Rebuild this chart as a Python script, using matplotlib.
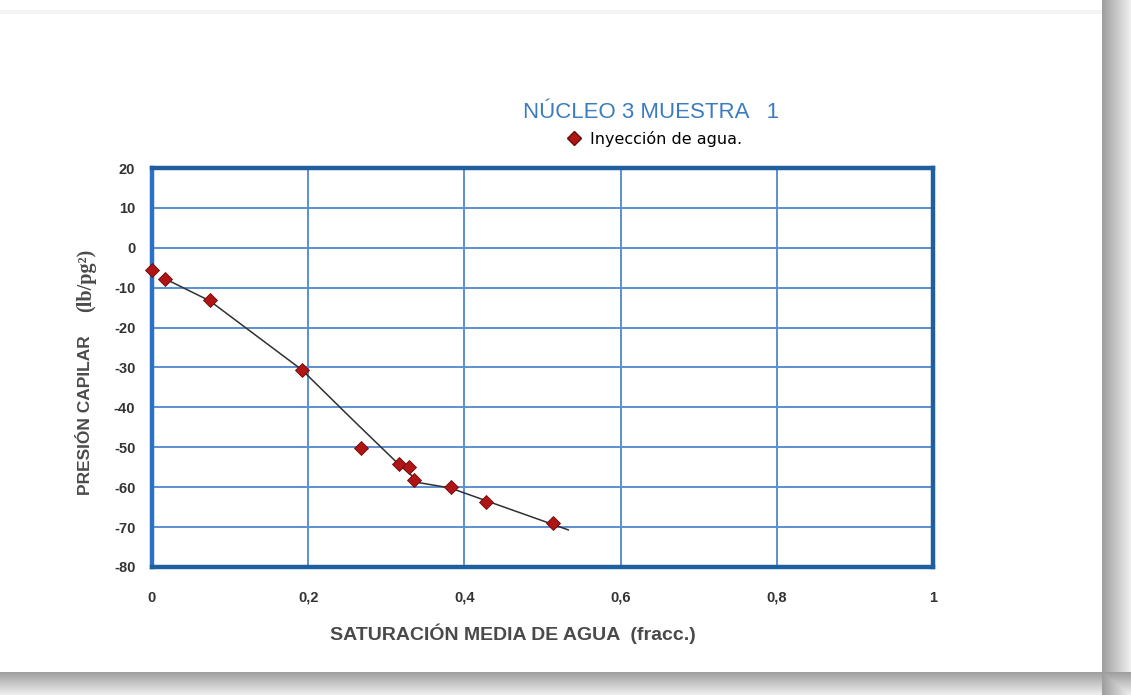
"""
Núcleo 3 muestra 1 - presión capilar vs saturación media de agua
"""

import numpy as np
import matplotlib.pyplot as plt
from matplotlib.lines import Line2D

plt.rcParams['axes.unicode_minus'] = False

# datos
sw = [0.0, 0.017, 0.074, 0.192, 0.268, 0.316, 0.329, 0.335, 0.383, 0.428, 0.513]
pc = [-5.5, -7.8, -13.0, -30.6, -50.1, -54.1, -54.9, -58.1, -59.9, -63.7, -68.9]

# línea de tendencia trazada a mano
tend_x = [0.017, 0.074, 0.192, 0.257, 0.314, 0.343, 0.382, 0.533]
tend_y = [-7.8, -13.3, -30.6, -43.1, -53.9, -58.9, -60.2, -70.7]

xticks = [0, 0.2, 0.4, 0.6, 0.8, 1.0]
xlabels = ['0', '0,2', '0,4', '0,6', '0,8', '1']
yticks = [20, 10, 0, -10, -20, -30, -40, -50, -60, -70, -80]

W, H = 1131, 695
fig = plt.figure(figsize=(W / 100, H / 100), dpi=100)

# fondo tipo tarjeta con sombra
bg = fig.add_axes([0, 0, 1, 1])
img = np.ones((H, W))
xx = np.arange(W)
yy = np.arange(H)
right = np.clip((xx - 1102) / 29.0, 0, 1)
bottom = np.clip((yy - 672) / 23.0, 0, 1)
shade_r = np.where(xx >= 1102, 0.62 + 0.33 * right, 1.0)
shade_b = np.where(yy >= 672, 0.62 + 0.33 * bottom, 1.0)
img = np.minimum(img, shade_r[None, :])
img = np.minimum(img, shade_b[:, None])
img[10:14, 0:1102] = np.minimum(img[10:14, 0:1102], 0.96)
bg.imshow(np.dstack([img, img, img]), aspect='auto', extent=(0, W, H, 0))
bg.set_axis_off()

ax = fig.add_axes([152 / W, 1 - 567 / H, (933 - 152) / W, (567 - 168) / H])
ax.set_xlim(0, 1)
ax.set_ylim(-80, 20)
ax.set_xticks(xticks)
ax.set_xticklabels(xlabels)
ax.set_yticks(yticks)
ax.grid(True, color='#5b8fd0', linewidth=1.4)
ax.set_axisbelow(True)
for s in ax.spines.values():
    s.set_color('#1f5f9f')
    s.set_linewidth(3.2)
ax.spines['left'].set_color('#2a72c8')
ax.tick_params(length=0, labelsize=10.5, labelcolor='#333333')
ax.tick_params(axis='x', pad=17)
ax.tick_params(axis='y', pad=12)
for t in ax.get_xticklabels() + ax.get_yticklabels():
    t.set_fontweight('bold')
    t.set_family('Liberation Sans')

ax.plot(tend_x, tend_y, color='#303030', linewidth=1.1, zorder=3)
ax.plot(sw, pc, linestyle='none', marker='D', markersize=7.5,
        markerfacecolor='#b01515', markeredgecolor='#6a0a0a', markeredgewidth=0.6,
        zorder=4, clip_on=False)

# titulo y leyenda
fig.text(651 / W, 1 - 113 / H, 'NÚCLEO 3 MUESTRA   1', color='#3b7bbf',
         fontsize=16, family='Liberation Sans', ha='center', va='center')
fig.legend(handles=[Line2D([], [], linestyle='none', marker='D', markersize=7,
                           markerfacecolor='#b01515', markeredgecolor='#6a0a0a',
                           label='Inyección de agua.')],
           loc='center', bbox_to_anchor=(650 / W, 1 - 139 / H), frameon=False,
           handletextpad=0.0, prop={'family': 'DejaVu Sans', 'size': 11.5})

fig.text(513 / W, 1 - 634 / H, 'SATURACIÓN MEDIA DE AGUA  (fracc.)', color='#4a4a4a',
         fontsize=14, fontweight='bold', family='Liberation Sans', ha='center', va='center')
fig.text(86 / W, 1 - 415 / H, 'PRESIÓN CAPILAR', color='#4a4a4a', rotation=90,
         fontsize=12.5, fontweight='bold', family='Liberation Sans', ha='center', va='center')
fig.text(86 / W, 1 - 280 / H, '(lb/pg²)', color='#4a4a4a', rotation=90,
         fontsize=14.5, fontweight='bold', family='Liberation Serif', ha='center', va='center')

plt.savefig('out.png', dpi=100)
